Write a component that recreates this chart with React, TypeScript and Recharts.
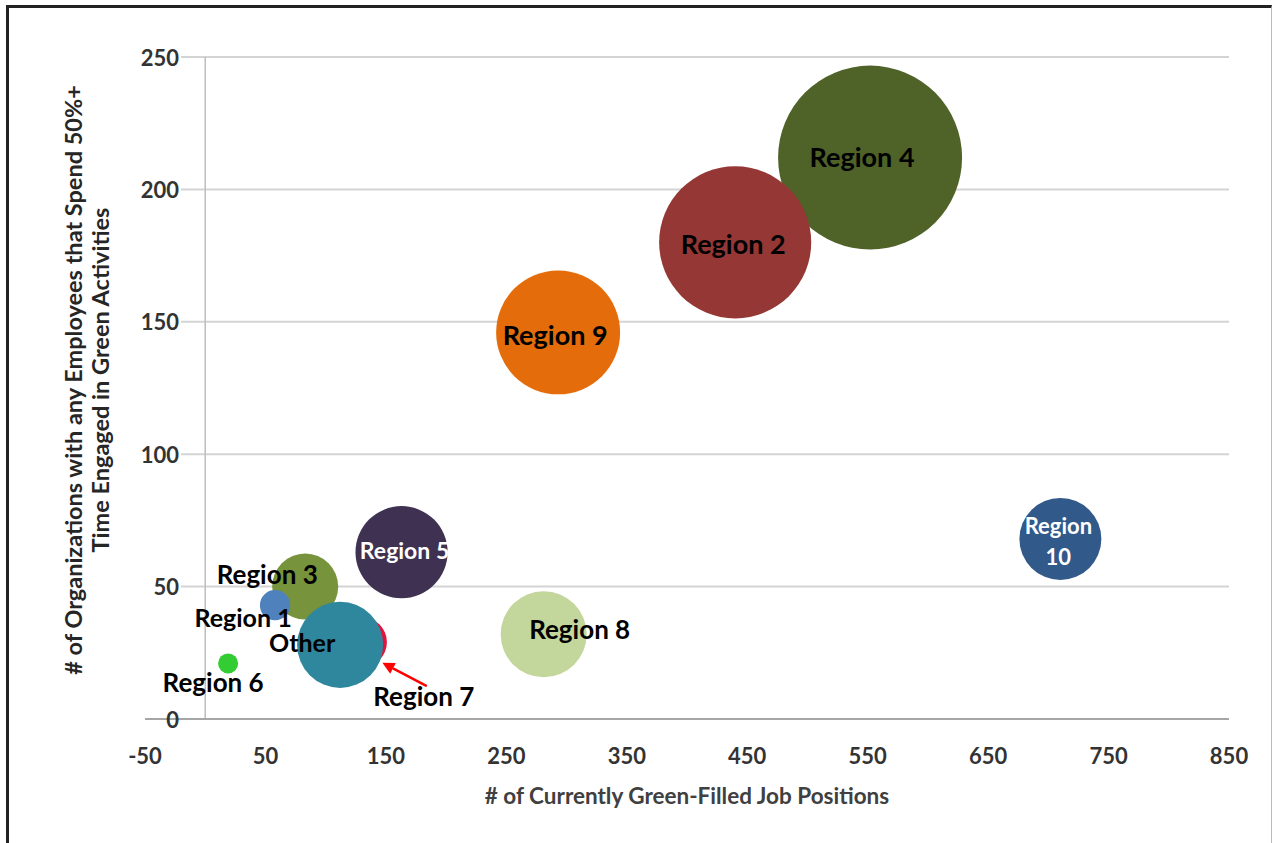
import React from "react";
import {
  ScatterChart,
  Scatter,
  XAxis,
  YAxis,
  ZAxis,
  CartesianGrid,
  ReferenceLine,
  Cell,
} from "recharts";

// values
const regions = [
  "Region 4",
  "Region 2",
  "Region 9",
  "Region 10",
  "Region 5",
  "Region 8",
  "Region 3",
  "Region 1",
  "Region 7",
  "Other",
  "Region 6",
];
const greenJobs = [552, 440, 293, 710, 163, 281, 83, 58, 130, 112, 19];
const organizations = [212, 180, 146, 68, 63, 32, 50, 43, 29, 28, 21];
const bubbleSize = [846, 578, 384, 168, 212, 185, 109, 23, 63, 185, 10];

const xTicks = [-50, 50, 150, 250, 350, 450, 550, 650, 750, 850];
const yTicks = [0, 50, 100, 150, 200, 250];

const colors: Record<string, string> = {
  "Region 4": "#4f6228",
  "Region 2": "#953735",
  "Region 9": "#e46c0a",
  "Region 10": "#31598a",
  "Region 5": "#3f3151",
  "Region 8": "#c3d69b",
  "Region 3": "#77933c",
  "Region 1": "#4f81bd",
  "Region 7": "#e0143c",
  Other: "#2f879e",
  "Region 6": "#33cc33",
};

// label nudges (px) relative to bubble centre
const labelStyle: Record<string, { dx: number; dy: number; fill: string; size: number }> = {
  "Region 4": { dx: -8, dy: -1, fill: "#000", size: 27 },
  "Region 2": { dx: -2, dy: 1, fill: "#000", size: 27 },
  "Region 9": { dx: -3, dy: 2, fill: "#000", size: 27 },
  "Region 10": { dx: -2, dy: 0, fill: "#fff", size: 22 },
  "Region 5": { dx: 3, dy: -2, fill: "#fff", size: 23 },
  "Region 8": { dx: 36, dy: -5, fill: "#000", size: 26 },
  "Region 3": { dx: -38, dy: -13, fill: "#000", size: 26 },
  "Region 1": { dx: -32, dy: 12, fill: "#000", size: 25 },
  "Region 7": { dx: 62, dy: 54, fill: "#000", size: 26 },
  Other: { dx: -38, dy: -3, fill: "#000", size: 25 },
  "Region 6": { dx: -15, dy: 19, fill: "#000", size: 26 },
};

const points = regions.map((name, i) => ({
  name,
  x: greenJobs[i],
  y: organizations[i],
  z: bubbleSize[i],
}));

const FONT = "Lato, 'Noto Sans', sans-serif";

const XTick = (props: any) => {
  const { x, y, payload } = props;
  return (
    <text
      x={x}
      y={y + 36}
      textAnchor="middle"
      dominantBaseline="central"
      fontFamily={FONT}
      fontWeight={700}
      fontSize={22}
      fill="#333"
    >
      {payload.value}
    </text>
  );
};

const YTick = (props: any) => {
  const { x, y, payload } = props;
  return (
    <g>
      {payload.value !== 0 && <rect x={x} y={y - 10} width={36} height={20} fill="#fff" />}
      <text
        x={x + 34}
        y={y}
        textAnchor="end"
        dominantBaseline="central"
        fontFamily={FONT}
        fontWeight={700}
        fontSize={22}
        fill="#333"
      >
        {payload.value}
      </text>
    </g>
  );
};

const BubbleLabel = (props: any) => {
  const { cx, cy, payload, width } = props;
  const s = labelStyle[payload.name];
  const tx = cx + s.dx;
  const ty = cy + s.dy;
  const common = {
    textAnchor: "middle" as const,
    dominantBaseline: "central" as const,
    fontFamily: FONT,
    fontWeight: 700,
    fontSize: s.size,
    fill: s.fill,
  };
  if (payload.name === "Region 10") {
    return (
      <g>
        <text x={tx} y={ty - 13} {...common}>
          Region
        </text>
        <text x={tx} y={ty + 18} {...common}>
          10
        </text>
      </g>
    );
  }
  if (payload.name === "Region 7") {
    const r = (width || 0) / 2 + 4;
    const ax = cx + r * Math.SQRT1_2;
    const ay = cy + r * Math.SQRT1_2;
    const sx = tx + 3;
    const sy = ty - 10;
    const ang = Math.atan2(ay - sy, ax - sx);
    const hl = 12;
    const hw = 6;
    const bx = ax - hl * Math.cos(ang);
    const by = ay - hl * Math.sin(ang);
    return (
      <g>
        <line x1={sx} y1={sy} x2={bx} y2={by} stroke="#ff0000" strokeWidth={2.5} />
        <polygon
          points={`${ax},${ay} ${bx - hw * Math.sin(ang)},${by + hw * Math.cos(ang)} ${bx + hw * Math.sin(ang)},${by - hw * Math.cos(ang)}`}
          fill="#ff0000"
        />
        <text x={tx} y={ty} {...common}>
          {payload.name}
        </text>
      </g>
    );
  }
  return (
    <text x={tx} y={ty} {...common}>
      {payload.name}
    </text>
  );
};

export default function App() {
  return (
    <div
      style={{
        position: "absolute",
        left: 0,
        top: 0,
        width: 1272,
        height: 843,
        overflow: "hidden",
        background: "#fff",
      }}
    >
      <div
        style={{
          position: "absolute",
          left: 6,
          top: 5,
          width: 1262,
          height: 860,
          borderTop: "3px solid #222",
          borderLeft: "3px solid #222",
          borderRight: "1px solid #bbb",
        }}
      />
      <ScatterChart
        width={1272}
        height={843}
        margin={{ top: 57, right: 43, bottom: 84, left: 109 }}
        style={{ position: "absolute", left: 0, top: 0 }}
      >
        <CartesianGrid vertical={false} stroke="#d4d4d4" strokeWidth={2} />
        <XAxis
          type="number"
          dataKey="x"
          domain={[-50, 850]}
          ticks={xTicks}
          interval={0}
          height={40}
          tickSize={0}
          tickMargin={0}
          tickLine={false}
          axisLine={{ stroke: "#a6a6a6", strokeWidth: 2 }}
          tick={<XTick />}
        />
        <YAxis
          type="number"
          dataKey="y"
          domain={[0, 250]}
          ticks={yTicks}
          interval={0}
          width={36}
          tickSize={0}
          tickMargin={0}
          tickLine={false}
          axisLine={false}
          tick={<YTick />}
        />
        <ZAxis type="number" dataKey="z" domain={[0, 846]} range={[0, Math.PI * 92 * 92]} />
        <ReferenceLine x={0} stroke="#bdbdbd" strokeWidth={1.5} />
        <Scatter data={points} isAnimationActive={false}>
          {points.map((p) => (
            <Cell key={p.name} fill={colors[p.name]} />
          ))}
        </Scatter>
        <Scatter data={points} isAnimationActive={false} shape={<BubbleLabel />} />
      </ScatterChart>
      <svg
        width={1272}
        height={843}
        style={{ position: "absolute", left: 0, top: 0, pointerEvents: "none" }}
      >
        <text
          x={687}
          y={795}
          textAnchor="middle"
          dominantBaseline="central"
          fontFamily={FONT}
          fontWeight={700}
          fontSize={22.5}
          fill="#404040"
        >
          # of Currently Green-Filled Job Positions
        </text>
        <g transform="translate(73,380) rotate(-90)">
          <text
            x={0}
            y={0}
            textAnchor="middle"
            dominantBaseline="central"
            fontFamily={FONT}
            fontWeight={700}
            fontSize={23.5}
            fill="#262626"
          >
            # of  Organizations with any Employees that Spend 50%+
          </text>
        </g>
        <g transform="translate(100,380) rotate(-90)">
          <text
            x={0}
            y={0}
            textAnchor="middle"
            dominantBaseline="central"
            fontFamily={FONT}
            fontWeight={700}
            fontSize={23.5}
            fill="#262626"
          >
            Time Engaged in Green Activities
          </text>
        </g>
      </svg>
    </div>
  );
}
